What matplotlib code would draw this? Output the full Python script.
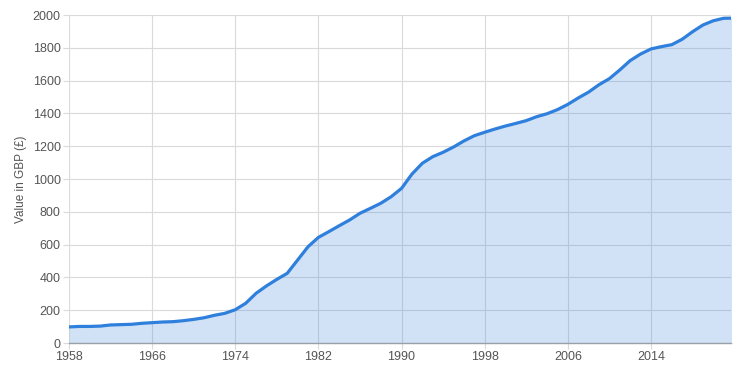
import numpy as np
import matplotlib.pyplot as plt

plt.rcParams['font.family'] = ['Liberation Sans', 'DejaVu Sans']

years = list(range(1958, 2023))
values = [98, 101, 101, 103, 110, 112, 114, 120, 124, 128,
          130, 136, 144, 154, 169, 181, 203, 242, 303, 348,
          388, 425, 506, 587, 644, 679, 715, 750, 791, 821,
          852, 892, 943, 1030, 1096, 1136, 1163, 1195, 1232, 1264,
          1285, 1305, 1323, 1339, 1356, 1380, 1398, 1423, 1455, 1494,
          1530, 1575, 1612, 1665, 1722, 1762, 1793, 1807, 1819, 1852,
          1898, 1939, 1965, 1980, 1981]
x_ticks = [1958, 1966, 1974, 1982, 1990, 1998, 2006, 2014]
y_ticks = list(range(0, 2001, 200))

LINE = '#2f7fdc'
GRID = '#dadada'
TEXT = '#555555'

fig = plt.figure(figsize=(7.38, 3.81), dpi=100)
ax = fig.add_axes([69 / 738, 38 / 381, 662 / 738, 328 / 381])

# translucent fill so the grid shows through like the original
ax.fill_between(years, values, 0, color=LINE, alpha=0.22, linewidth=0, zorder=2)
ax.plot(years, values, color=LINE, linewidth=2.3, solid_joinstyle='round', zorder=3)

ax.set_xlim(1958, 2021.7)
ax.set_ylim(0, 2000)
ax.set_xticks(x_ticks)
ax.set_yticks(y_ticks)

ax.grid(True, color=GRID, linewidth=0.8, zorder=0)
ax.set_axisbelow(True)
for s in ['top', 'right', 'left']:
    ax.spines[s].set_visible(False)
ax.spines['bottom'].set_color('#9aa0a8')
ax.spines['bottom'].set_linewidth(1.0)
ax.spines['bottom'].set_zorder(4)

ax.tick_params(axis='both', colors=GRID, labelcolor=TEXT, labelsize=9,
               length=4, width=0.8, pad=2)
ax.set_ylabel('Value in GBP (£)', color=TEXT, fontsize=8.5, labelpad=4)

fig.savefig('out.png', dpi=100, facecolor='white')
